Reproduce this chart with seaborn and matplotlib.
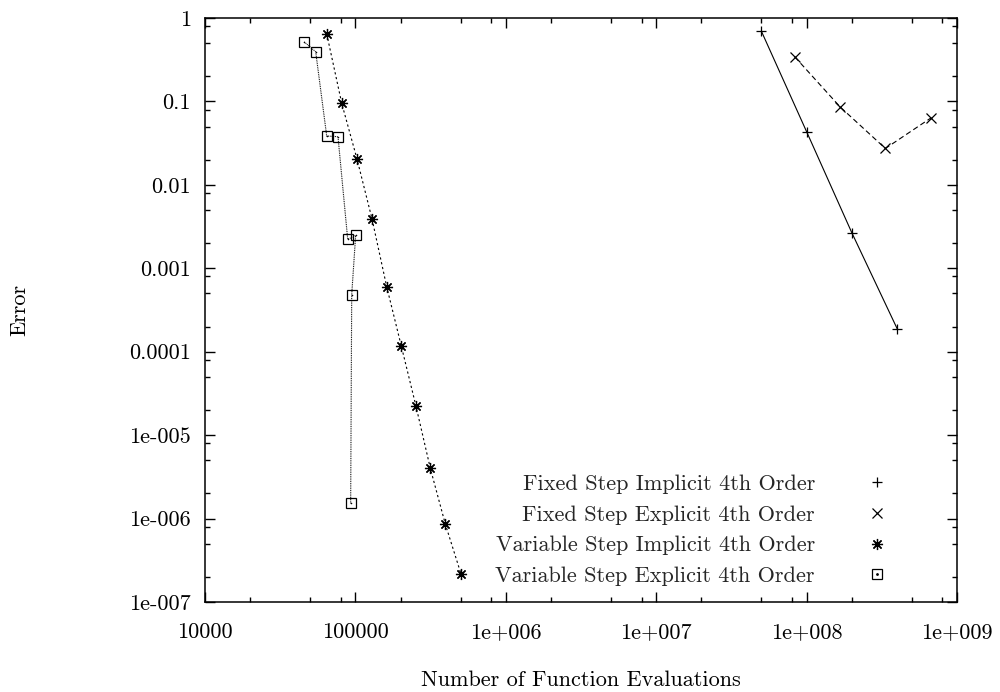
import matplotlib
matplotlib.use("Agg")
import matplotlib.pyplot as plt
from matplotlib.lines import Line2D
from matplotlib.legend_handler import HandlerTuple
from matplotlib.ticker import NullFormatter
import seaborn as sns

# ---- data ----
fixed_impl_x = [5.0e7, 1.0e8, 2.0e8, 4.0e8]
fixed_impl_y = [0.697, 0.0434, 0.00266, 1.89e-4]

fixed_expl_x = [8.35e7, 1.67e8, 3.34e8, 6.7e8]
fixed_expl_y = [0.342, 0.0860, 0.0273, 0.0633]

var_impl_x = [64500, 81100, 102500, 128900, 161500, 201900, 252800, 314800, 396000, 503700]
var_impl_y = [0.643, 0.0950, 0.0204, 0.00392, 6.01e-4, 1.17e-4, 2.23e-5, 4.01e-6, 8.61e-7, 2.17e-7]

var_expl_x = [45700, 54450, 64450, 76600, 88900, 100400, 94500, 93000]
var_expl_y = [0.516, 0.394, 0.0385, 0.0378, 0.00222, 0.00248, 4.82e-4, 1.52e-6]

series_labels = [
    "Fixed Step Implicit 4th Order",
    "Fixed Step Explicit 4th Order",
    "Variable Step Implicit 4th Order",
    "Variable Step Explicit 4th Order",
]

x_ticks = [1e4, 1e5, 1e6, 1e7, 1e8, 1e9]
x_tick_labels = ["10000", "100000", "1e+006", "1e+007", "1e+008", "1e+009"]
y_ticks = [1, 0.1, 0.01, 0.001, 0.0001, 1e-5, 1e-6, 1e-7]
y_tick_labels = ["1", "0.1", "0.01", "0.001", "0.0001", "1e-005", "1e-006", "1e-007"]
minor_mult = [2, 5, 8]

x_label = "Number of Function Evaluations"
y_label = "Error"

# ---- style ----
sns.set_theme(style="ticks")
plt.rcParams["font.family"] = ["cmr10", "DejaVu Serif"]
plt.rcParams["axes.unicode_minus"] = False
plt.rcParams["axes.formatter.use_mathtext"] = True
FS = 16

fig = plt.figure(figsize=(10, 6.92), dpi=100)
ax = fig.add_axes([0.205, 0.130, 0.752, 0.844])

common = dict(color="black", linewidth=0.8, sort=False, estimator=None,
              markeredgecolor="black", markerfacecolor="none", markeredgewidth=0.9)

MS_PLUS, MS_X, MS_STAR, MS_SQ = 7.5, 7, 8, 6.5

sns.lineplot(x=fixed_impl_x, y=fixed_impl_y, ax=ax, marker="+", markersize=MS_PLUS,
             linestyle="-", **common)
sns.lineplot(x=fixed_expl_x, y=fixed_expl_y, ax=ax, marker="x", markersize=MS_X,
             linestyle=(0, (4.8, 2.9)), **common)
sns.lineplot(x=var_impl_x, y=var_impl_y, ax=ax, marker=(8, 2, 0), markersize=MS_STAR,
             linestyle=(0, (2.0, 2.4)), **common)
sns.lineplot(x=var_expl_x, y=var_expl_y, ax=ax, marker="s", markersize=MS_SQ,
             linestyle=(0, (0.8, 0.8)), **common)
sns.scatterplot(x=var_expl_x, y=var_expl_y, ax=ax, marker=".", s=5,
                color="black", linewidth=0)

ax.set_xscale("log")
ax.set_yscale("log")
ax.set_xlim(1e4, 1e9)
ax.set_ylim(1e-7, 1)

ax.set_xticks(x_ticks, labels=x_tick_labels)
ax.set_yticks(y_ticks, labels=y_tick_labels)
ax.set_xticks([m * t for t in x_ticks[:-1] for m in minor_mult], minor=True)
ax.set_yticks([m * t for t in y_ticks[1:] for m in minor_mult], minor=True)
ax.xaxis.set_minor_formatter(NullFormatter())
ax.yaxis.set_minor_formatter(NullFormatter())

ax.tick_params(which="both", direction="in", top=True, right=True,
               color="black", width=1.0)
ax.tick_params(which="major", length=7)
ax.tick_params(which="minor", length=3.5)
ax.tick_params(axis="x", which="major", pad=15, labelsize=FS, labelcolor="black")
ax.tick_params(axis="y", which="major", pad=10, labelsize=FS, labelcolor="black")
for s in ax.spines.values():
    s.set_visible(True)
    s.set_linewidth(1.1)
    s.set_color("black")

ax.set_xlabel(x_label, fontsize=FS, color="black")
ax.set_ylabel(y_label, fontsize=FS, color="black")
ax.xaxis.set_label_coords(0.5, -0.1165)
ax.yaxis.set_label_coords(-0.234, 0.5)

# legend
kw = dict(color="black", linestyle="none", markerfacecolor="none",
          markeredgecolor="black", markeredgewidth=0.9)
h1 = Line2D([], [], marker="+", markersize=MS_PLUS, **kw)
h2 = Line2D([], [], marker="x", markersize=MS_X, **kw)
h3 = Line2D([], [], marker=(8, 2, 0), markersize=MS_STAR, **kw)
h4 = (Line2D([], [], marker="s", markersize=MS_SQ, **kw),
      Line2D([], [], marker=".", markersize=2, color="black", linestyle="none"))
leg = ax.legend([h1, h2, h3, h4], series_labels, loc="lower right",
                bbox_to_anchor=(0.947, -0.003), frameon=False, markerfirst=False,
                fontsize=FS, handlelength=2.0, handletextpad=1.8,
                labelspacing=0.5, borderpad=0.3,
                handler_map={tuple: HandlerTuple(ndivide=1)})

fig.savefig("out.png", dpi=100)
